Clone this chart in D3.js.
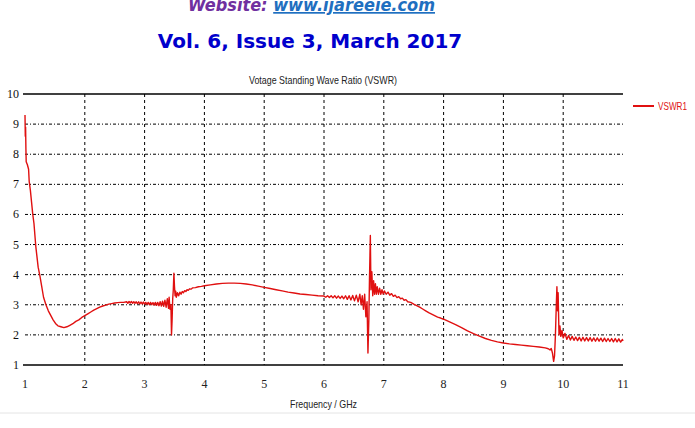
<!DOCTYPE html>
<html>
<head>
<meta charset="utf-8">
<script src="https://cdn.jsdelivr.net/npm/d3@7"></script>
<style>
  body { margin: 0; background: #fff; }
  svg { display: block; }
</style>
</head>
<body>
<svg id="chart" width="695" height="428"></svg>
<script>
// header lines of the journal page
var siteLabel = "Website: "
var siteUrl = "www.ijareeie.com"
var issueLine = "Vol. 6, Issue 3, March 2017"

var chartTitle = "Votage Standing Wave Ratio (VSWR)"
var xTitle = "Frequency / GHz"
var seriesName = "VSWR1"

var xTicks = [1, 2, 3, 4, 5, 6, 7, 8, 9, 10, 11]
var yTicks = [1, 2, 3, 4, 5, 6, 7, 8, 9, 10]

// [frequency GHz, VSWR]
var vswr1 = [
  [1.00,9.30],[1.005,8.6],[1.01,8.9],[1.015,8.2],[1.02,7.75],[1.04,7.65],[1.06,7.5],[1.07,7.1],
  [1.09,6.8],[1.11,6.4],[1.13,6.0],[1.15,5.7],[1.17,5.2],[1.18,4.95],[1.20,4.6],[1.22,4.25],
  [1.25,3.95],[1.28,3.6],[1.31,3.25],[1.35,3.0],[1.39,2.8],[1.43,2.65],[1.47,2.5],[1.51,2.38],
  [1.55,2.3],[1.6,2.27],[1.65,2.24],[1.7,2.27],[1.75,2.32],[1.8,2.37],[1.85,2.45],[1.9,2.5],
  [1.95,2.58],[2.0,2.64],[2.05,2.7],[2.1,2.76],[2.15,2.82],[2.2,2.87],[2.25,2.92],[2.3,2.96],
  [2.35,2.99],[2.4,3.02],[2.45,3.04],[2.5,3.06],[2.55,3.07],[2.6,3.08],[2.65,3.08],
  [2.7,3.1],[2.72,3.05],[2.74,3.11],[2.76,3.06],[2.78,3.11],[2.80,3.05],[2.82,3.1],[2.84,3.05],
  [2.86,3.1],[2.88,3.04],[2.9,3.1],[2.92,3.03],[2.94,3.09],[2.96,3.03],[2.98,3.09],[3.0,3.02],
  [3.02,3.08],[3.04,3.01],[3.06,3.08],[3.08,3.0],[3.1,3.08],[3.12,3.0],[3.14,3.07],[3.16,2.99],
  [3.18,3.08],[3.2,2.98],[3.22,3.08],[3.24,2.97],[3.26,3.1],[3.28,2.96],[3.3,3.12],[3.32,2.95],
  [3.34,3.15],[3.36,2.92],[3.38,3.2],[3.40,2.88],[3.41,3.25],[3.425,2.85],[3.44,3.0],[3.45,2.0],
  [3.46,2.5],[3.47,3.2],[3.48,3.5],[3.49,4.05],[3.50,3.6],[3.51,3.3],[3.52,3.45],[3.53,3.25],
  [3.55,3.4],[3.57,3.3],[3.59,3.42],[3.61,3.35],[3.63,3.44],[3.65,3.4],[3.67,3.47],[3.69,3.44],
  [3.71,3.5],[3.73,3.48],[3.75,3.53],[3.78,3.52],[3.8,3.56],[3.85,3.57],[3.9,3.6],[3.95,3.61],
  [4.0,3.63],[4.1,3.66],[4.2,3.69],[4.3,3.71],[4.4,3.72],[4.5,3.72],[4.6,3.71],[4.7,3.69],
  [4.8,3.66],[4.9,3.62],[5.0,3.58],[5.1,3.54],[5.2,3.5],[5.3,3.46],[5.4,3.42],[5.5,3.39],
  [5.6,3.36],[5.7,3.34],[5.8,3.32],[5.9,3.3],[6.0,3.29],
  [6.03,3.25],[6.06,3.3],[6.09,3.24],[6.12,3.3],[6.15,3.23],[6.18,3.3],[6.21,3.22],[6.24,3.29],
  [6.27,3.21],[6.30,3.29],[6.33,3.2],[6.36,3.3],[6.39,3.18],[6.42,3.3],[6.45,3.16],[6.48,3.31],
  [6.51,3.13],[6.54,3.32],[6.57,3.1],[6.60,3.35],[6.62,3.0],[6.64,3.3],[6.66,2.85],[6.68,3.35],
  [6.70,2.6],[6.72,3.1],[6.735,1.4],[6.75,2.5],[6.76,3.8],[6.775,5.3],[6.785,3.5],[6.80,4.1],
  [6.815,3.3],[6.83,3.8],[6.845,3.35],[6.86,3.7],[6.875,3.35],[6.89,3.6],[6.91,3.35],[6.93,3.55],
  [6.95,3.35],[6.97,3.5],[6.99,3.36],[7.01,3.46],[7.04,3.35],[7.07,3.42],[7.1,3.32],[7.13,3.37],
  [7.16,3.28],[7.19,3.32],[7.22,3.24],[7.25,3.27],[7.28,3.2],[7.31,3.22],[7.34,3.15],[7.37,3.17],
  [7.4,3.1],[7.45,3.08],[7.5,3.02],[7.55,2.97],[7.6,2.92],[7.65,2.86],[7.7,2.8],[7.75,2.74],
  [7.8,2.69],[7.85,2.64],[7.9,2.59],[7.95,2.56],[8.0,2.52],[8.1,2.43],[8.2,2.34],[8.3,2.24],
  [8.4,2.13],[8.5,2.04],[8.6,1.96],[8.7,1.88],[8.8,1.82],[8.9,1.77],[9.0,1.73],[9.1,1.7],
  [9.2,1.68],[9.3,1.66],[9.4,1.64],[9.5,1.62],[9.6,1.6],[9.7,1.57],[9.75,1.54],[9.78,1.5],
  [9.8,1.55],[9.82,1.4],[9.84,1.12],[9.855,1.3],[9.87,2.0],[9.885,3.0],[9.895,3.6],[9.905,2.8],
  [9.915,3.4],[9.93,2.0],[9.945,2.3],[9.96,1.95],[9.98,2.15],[10.0,1.9],[10.03,2.05],[10.06,1.85],
  [10.09,1.98],[10.12,1.83],[10.15,1.95],[10.18,1.82],[10.21,1.93],[10.24,1.81],[10.27,1.92],
  [10.3,1.8],[10.33,1.92],[10.36,1.8],[10.39,1.91],[10.42,1.8],[10.45,1.91],[10.48,1.79],
  [10.51,1.9],[10.54,1.79],[10.57,1.9],[10.6,1.79],[10.63,1.89],[10.66,1.78],[10.69,1.89],
  [10.72,1.78],[10.75,1.88],[10.78,1.78],[10.81,1.88],[10.84,1.77],[10.87,1.88],[10.9,1.77],
  [10.93,1.87],[10.96,1.76],[10.99,1.85],[11.0,1.8]
]

var svg = d3.select('#chart')

// page header
var web = svg.append('text')
	.attr('x', 188)
	.attr('y', 11)
	.attr('textLength', 247)
	.attr('lengthAdjust', 'spacingAndGlyphs')
	.style('font-family', 'Verdana, "DejaVu Sans", sans-serif')
	.style('font-size', '17px')
	.style('font-weight', 'bold')
	.style('font-style', 'italic')
web.append('tspan').attr('fill', '#7030a0').text(siteLabel)
web.append('tspan').attr('fill', '#1f6fc0').style('text-decoration', 'underline').text(siteUrl)

svg.append('text')
	.attr('x', 310)
	.attr('y', 48)
	.attr('text-anchor', 'middle')
	.attr('fill', '#0000cc')
	.style('font-family', 'Verdana, "DejaVu Sans", sans-serif')
	.style('font-size', '20px')
	.style('font-weight', 'bold')
	.text(issueLine)

var plotLeft = 25, plotRight = 623, plotTop = 94, plotBottom = 365

var x = d3.scaleLinear().domain([1, 11]).range([plotLeft, plotRight])
var y = d3.scaleLinear().domain([1, 10]).range([plotBottom, plotTop])

// grid
svg.append('g').selectAll('line')
	.data(yTicks.filter(function(d){ return d > 1 && d < 10 }))
	.enter().append('line')
	.attr('x1', plotLeft).attr('x2', plotRight)
	.attr('y1', function(d){ return y(d) }).attr('y2', function(d){ return y(d) })
	.attr('stroke', '#000')
	.attr('stroke-width', 1)
	.attr('stroke-dasharray', '3,2,1,2')

svg.append('g').selectAll('line')
	.data(xTicks.filter(function(d){ return d > 1 && d < 11 }))
	.enter().append('line')
	.attr('x1', function(d){ return x(d) }).attr('x2', function(d){ return x(d) })
	.attr('y1', plotTop).attr('y2', plotBottom)
	.attr('stroke', '#000')
	.attr('stroke-width', 1)
	.attr('stroke-dasharray', '3,3')

// solid top and bottom frame lines
svg.append('line').attr('x1', plotLeft - 2).attr('x2', plotRight)
	.attr('y1', y(10)).attr('y2', y(10)).attr('stroke', '#000').attr('stroke-width', 1.3)
svg.append('line').attr('x1', plotLeft - 2).attr('x2', plotRight)
	.attr('y1', y(1)).attr('y2', y(1)).attr('stroke', '#000').attr('stroke-width', 1.3)

// tick labels
var tickFont = '"Liberation Serif", "Times New Roman", serif'
svg.append('g').selectAll('text')
	.data(yTicks).enter().append('text')
	.attr('x', plotLeft - 6)
	.attr('y', function(d){ return y(d) + 4 })
	.attr('text-anchor', 'end')
	.style('font-family', tickFont)
	.style('font-size', '12px')
	.attr('fill', '#111')
	.text(function(d){ return d })

svg.append('g').selectAll('text')
	.data(xTicks).enter().append('text')
	.attr('x', function(d){ return x(d) })
	.attr('y', 388)
	.attr('text-anchor', 'middle')
	.style('font-family', tickFont)
	.style('font-size', '12px')
	.attr('fill', '#222')
	.text(function(d){ return d })

// titles (narrow face, squeezed to the reference widths)
var labelFont = '"Liberation Sans Narrow", "Arial Narrow", "Liberation Sans", sans-serif'
svg.append('text')
	.attr('x', 249).attr('y', 84)
	.attr('textLength', 148)
	.attr('lengthAdjust', 'spacingAndGlyphs')
	.style('font-family', labelFont)
	.style('font-size', '11px')
	.attr('fill', '#222')
	.text(chartTitle)

svg.append('text')
	.attr('x', 290).attr('y', 408)
	.attr('textLength', 67)
	.attr('lengthAdjust', 'spacingAndGlyphs')
	.style('font-family', labelFont)
	.style('font-size', '11px')
	.attr('fill', '#222')
	.text(xTitle)

// the curve
var line = d3.line()
	.x(function(d){ return x(d[0]) })
	.y(function(d){ return y(d[1]) })

svg.append('path')
	.datum(vswr1)
	.attr('d', line)
	.attr('fill', 'none')
	.attr('stroke', '#e01010')
	.attr('stroke-width', 1.4)
	.attr('stroke-linejoin', 'round')

// legend
svg.append('line')
	.attr('x1', 633).attr('x2', 654)
	.attr('y1', 106).attr('y2', 106)
	.attr('stroke', '#e01010').attr('stroke-width', 2)
svg.append('text')
	.attr('x', 658).attr('y', 110)
	.attr('textLength', 29)
	.attr('lengthAdjust', 'spacingAndGlyphs')
	.style('font-family', labelFont)
	.style('font-size', '11px')
	.attr('fill', '#e01010')
	.text(seriesName)

// faint rule at page bottom
svg.append('line')
	.attr('x1', 0).attr('x2', 695)
	.attr('y1', 413).attr('y2', 413)
	.attr('stroke', '#e4e4e4').attr('stroke-width', 1)
</script>
</body>
</html>
